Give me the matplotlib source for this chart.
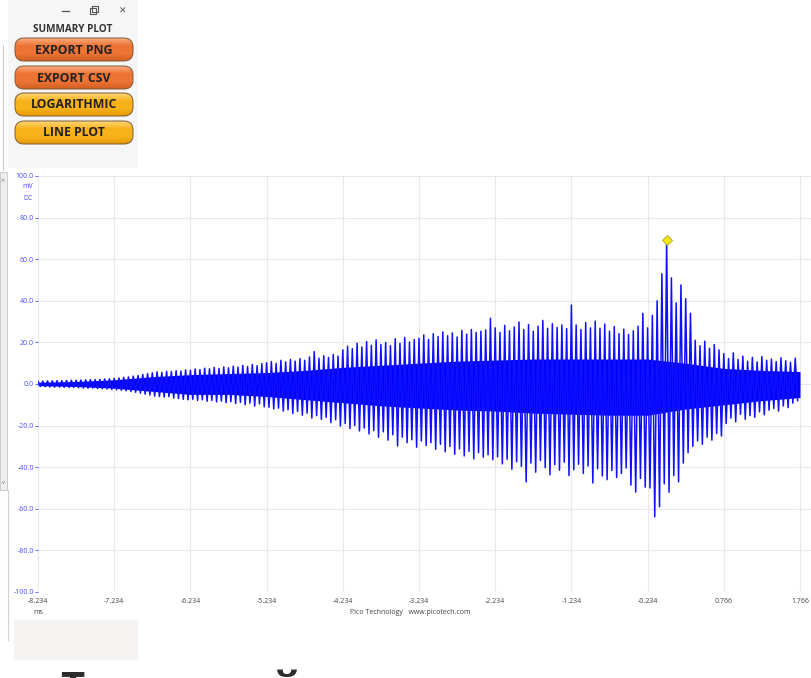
import numpy as np
import matplotlib.pyplot as plt
from matplotlib.patches import FancyBboxPatch, Rectangle
from matplotlib.colors import LinearSegmentedColormap

plt.rcParams['font.family'] = ['Open Sans', 'DejaVu Sans']

# --- captured trace (mV), alternating positive / negative peaks ---
t_start = -8.234   # ms, left edge of the capture
t_step = 0.0625    # ms between successive positive peaks

upper_mv = [
    1.3, 1.4, 1.5, 1.5, 1.6, 1.6, 1.7, 1.8, 1.8, 1.9, 2.0, 2.1, 2.1, 2.2, 2.4, 2.5,
    2.7, 2.9, 3.2, 3.4, 3.8, 4.1, 4.6, 5.0, 5.4, 5.9, 5.6, 6.1, 6.0, 6.4, 6.2, 6.8,
    6.6, 7.2, 6.9, 7.6, 7.3, 8.0, 7.5, 8.2, 7.8, 8.6, 8.1, 9.0, 8.4, 9.4, 8.8, 9.8,
    10.2, 10.8, 9.9, 11.4, 10.6, 11.8, 11.0, 12.2, 11.4, 13.0, 15.6, 12.4, 13.6, 12.8, 14.2, 13.4,
    16.4, 18.2, 17.0, 19.6, 17.8, 20.4, 18.6, 21.2, 19.0, 20.0, 18.4, 21.8, 19.6, 22.4, 20.2, 21.4,
    22.0, 23.6, 21.4, 24.2, 22.8, 25.0, 23.2, 24.6, 22.6, 25.8, 24.0, 26.2, 24.8, 25.4, 26.0, 31.6,
    27.0, 24.8, 28.2, 25.6, 27.4, 29.8, 26.2, 28.6, 25.4, 27.8, 30.6, 26.8, 29.0, 27.2, 28.4, 26.6,
    38.0, 28.4, 26.2, 29.6, 27.0, 30.2, 26.8, 28.8, 25.4, 27.6, 24.2, 26.4, 23.8, 25.6, 27.8, 34.0,
    27.0, 33.0, 40.0, 53.0, 69.0, 51.0, 39.0, 47.6, 41.0, 34.0, 21.0, 18.4, 20.6, 17.2, 19.0, 16.4,
    14.6, 12.2, 15.0, 11.8, 13.4, 11.0, 12.8, 10.6, 13.2, 11.4, 12.0, 10.8, 12.6, 11.2, 10.4, 12.4,
]
lower_mv = [
    -1.2, -1.3, -1.4, -1.5, -1.5, -1.6, -1.7, -1.7, -1.8, -1.9, -2.0, -2.0, -2.2, -2.3, -2.4, -2.6,
    -2.8, -3.0, -3.3, -3.6, -4.0, -4.4, -4.9, -5.3, -5.8, -6.0, -6.3, -6.1, -6.8, -7.0, -7.4, -7.6,
    -7.4, -7.9, -7.6, -8.3, -7.9, -8.6, -8.2, -9.0, -8.5, -9.4, -8.8, -10.0, -9.2, -10.6, -9.6, -11.0,
    -11.2, -12.0, -11.6, -13.0, -12.4, -14.2, -13.2, -15.0, -14.0, -16.4, -15.2, -17.0, -16.0, -18.6, -17.2, -20.2,
    -19.0, -21.4, -20.0, -22.6, -21.2, -24.0, -22.4, -25.6, -23.0, -27.0, -24.4, -29.8, -25.6, -28.2, -26.8, -30.4,
    -27.4, -29.6, -28.2, -31.4, -29.0, -32.6, -30.0, -33.8, -31.2, -34.6, -32.4, -36.0, -33.0, -35.2, -34.0, -36.4,
    -35.0, -38.4, -36.2, -41.0, -37.4, -39.6, -47.0, -38.0, -42.4, -36.8, -40.2, -43.6, -38.8, -41.4, -37.6, -44.0,
    -41.2, -38.6, -43.0, -39.4, -47.6, -40.8, -44.2, -46.0, -41.6, -45.0, -43.0, -40.4, -48.6, -52.0, -45.4, -49.6,
    -50.0, -63.8, -59.0, -48.0, -52.0, -44.0, -47.0, -38.0, -33.0, -30.0, -27.4, -29.0, -25.6, -27.0, -23.8, -25.0,
    -19.0, -16.4, -18.2, -14.6, -17.0, -15.2, -16.0, -13.4, -14.8, -12.6, -11.8, -13.0, -10.6, -11.4, -9.2, -8.0,
]

# dense middle band of the trace
core_t = [-8.234, -7.734, -7.234, -6.734, -6.234, -5.734, -5.234, -4.734, -4.234, -3.734, -3.234,
          -2.734, -2.234, -1.734, -1.234, -0.734, -0.234, 0.266, 0.766, 1.266, 1.766]
core_hi = [0.8, 1.2, 2.0, 3.5, 4.5, 5.0, 5.5, 6.5, 8.0, 9.0, 10.0,
           11.0, 11.5, 12.0, 12.0, 12.0, 12.0, 10.0, 7.5, 6.5, 6.0]
core_lo = [-0.8, -1.2, -2.0, -3.5, -5.0, -5.0, -6.0, -7.5, -9.0, -10.5, -11.5,
           -12.5, -13.0, -14.0, -14.5, -15.0, -15.0, -12.0, -10.0, -8.0, -6.5]

x_ticks = [-8.234, -7.234, -6.234, -5.234, -4.234, -3.234, -2.234, -1.234, -0.234, 0.766, 1.766]
y_ticks = [-100, -80, -60, -40, -20, 0, 20, 40, 60, 80, 100]

buttons = ['EXPORT PNG', 'EXPORT CSV', 'LOGARITHMIC', 'LINE PLOT']

W, H = 811, 678
fig = plt.figure(figsize=(W / 100, H / 100), dpi=100)
fig.patch.set_facecolor('white')

# ---- window chrome drawn in pixel coordinates ----
ui = fig.add_axes([0, 0, 1, 1], zorder=0)
ui.axis('off')

ui.add_patch(Rectangle((8, 0), 130, 168, fc='#f6f6f6', ec='none'))
ui.add_patch(Rectangle((14, 620), 124, 40, fc='#f4f3f2', ec='none'))
ui.plot([3, 3], [45, 170], color='#c9c9c9', lw=0.8)
ui.add_patch(Rectangle((0, 172), 7, 318, fc='#eeeeee', ec='#c4c4c4', lw=0.6))
ui.text(3, 182, '^', fontsize=5, color='#666666', ha='center', va='center')
ui.text(3, 482, 'v', fontsize=4, color='#666666', ha='center', va='center')
ui.plot([8, 8], [490, 640], color='#d2d2d2', lw=0.8)

# title bar buttons
ui.plot([62, 69], [11, 11], color='#555555', lw=0.9)
ui.add_patch(Rectangle((90, 8), 6, 6, fc='none', ec='#555555', lw=0.8))
ui.add_patch(Rectangle((92, 6), 6, 6, fc='none', ec='#555555', lw=0.8))
ui.text(123, 11, '\u2715', fontsize=6.5, color='#555555', ha='center', va='center',
        family='DejaVu Sans')

ui.text(73, 29, 'SUMMARY PLOT', fontsize=7.2, fontweight='bold', color='#333333',
        ha='center', va='center')

button_tops = [38, 66, 93, 121]
button_cols = [('#fbab80', '#ec7434', '#d45f24'), ('#fbab80', '#ec7434', '#d45f24'),
               ('#ffd77a', '#f8b21a', '#e59a06'), ('#ffd77a', '#f8b21a', '#e59a06')]
grad = np.linspace(0, 1, 64)[:, None]
for label, y0, cols in zip(buttons, button_tops, button_cols):
    h = 23
    box = FancyBboxPatch((15, y0), 118, h, boxstyle='round,pad=0,rounding_size=9',
                         fc='none', ec='#7a5a3a', lw=0.7, zorder=3)
    ui.add_patch(box)
    cmap = LinearSegmentedColormap.from_list('btn', [cols[0], cols[1], cols[1], cols[2]])
    im = ui.imshow(grad, extent=(15, 133, y0 + h, y0), cmap=cmap, aspect='auto', zorder=2)
    im.set_clip_path(box)
    ui.text(74, y0 + h / 2 + 0.5, label, fontsize=8.8, fontweight='bold', color='#222222',
            ha='center', va='center', zorder=4)

# plot canvas
ui.add_patch(Rectangle((14, 170), W - 14, 450, fc='white', ec='none'))

ui.text(38, 613, 'ms', fontsize=5, color='#444444', ha='center', va='center')
ui.text(410, 613, 'Pico Technology   www.picotech.com', fontsize=5, color='#444444',
        ha='center', va='center')

# heading below the screenshot, mostly cut off
ui.text(60, 702, '\u0422', fontsize=30, fontweight='bold', color='#2d2d2d',
        ha='left', va='baseline', clip_on=False)
ui.text(272, 702, '\u0439', fontsize=30, fontweight='bold', color='#2d2d2d',
        ha='left', va='baseline', clip_on=False)

ui.set_xlim(0, W)
ui.set_ylim(H, 0)

# ---- scope trace ----
px_per_ms = 76.2
ax = fig.add_axes([38 / W, (H - 592) / H, (W - 38) / W, 416 / H], zorder=1)
ax.patch.set_alpha(0)

n = len(upper_mv)
t_up = t_start + t_step * np.arange(n)
t_lo = t_up + t_step / 2
t = np.empty(2 * n)
v = np.empty(2 * n)
t[0::2], t[1::2] = t_up, t_lo
v[0::2], v[1::2] = upper_mv, lower_mv

ax.fill_between(core_t, core_lo, core_hi, color='#0000ff', lw=0, zorder=2)
ax.plot(t, v, color='#1010ff', lw=1.1, zorder=3)

ipk = int(np.argmax(upper_mv))
ax.plot(t_up[ipk], upper_mv[ipk], marker='D', ms=5, mfc='#f4e41c', mec='#b5a514',
        mew=0.6, zorder=4)

ax.set_xlim(t_start, t_start + (W - 38) / px_per_ms)
ax.set_ylim(-100, 100)
ax.set_xticks(x_ticks)
ax.set_xticklabels(['%.3f' % x for x in x_ticks])
ax.set_yticks(y_ticks)
ax.set_yticklabels(['%.1f' % y for y in y_ticks])
ax.grid(True, color='#e8e8ee', lw=0.8, zorder=0)
ax.set_axisbelow(True)
for s in ax.spines.values():
    s.set_visible(False)
ax.tick_params(axis='x', length=0, pad=4, labelsize=5, labelcolor='#444444')
ax.tick_params(axis='y', length=2.5, width=0.6, color='#5050ff', pad=0.5,
               labelsize=5, labelcolor='#4b4bff')
ax.text(33, 187, 'mV', transform=ui.transData, fontsize=5, color='#4b4bff',
        ha='right', va='center')
ax.text(33, 198, 'DC', transform=ui.transData, fontsize=5, color='#4b4bff',
        ha='right', va='center')

fig.savefig('out.png', dpi=100)
